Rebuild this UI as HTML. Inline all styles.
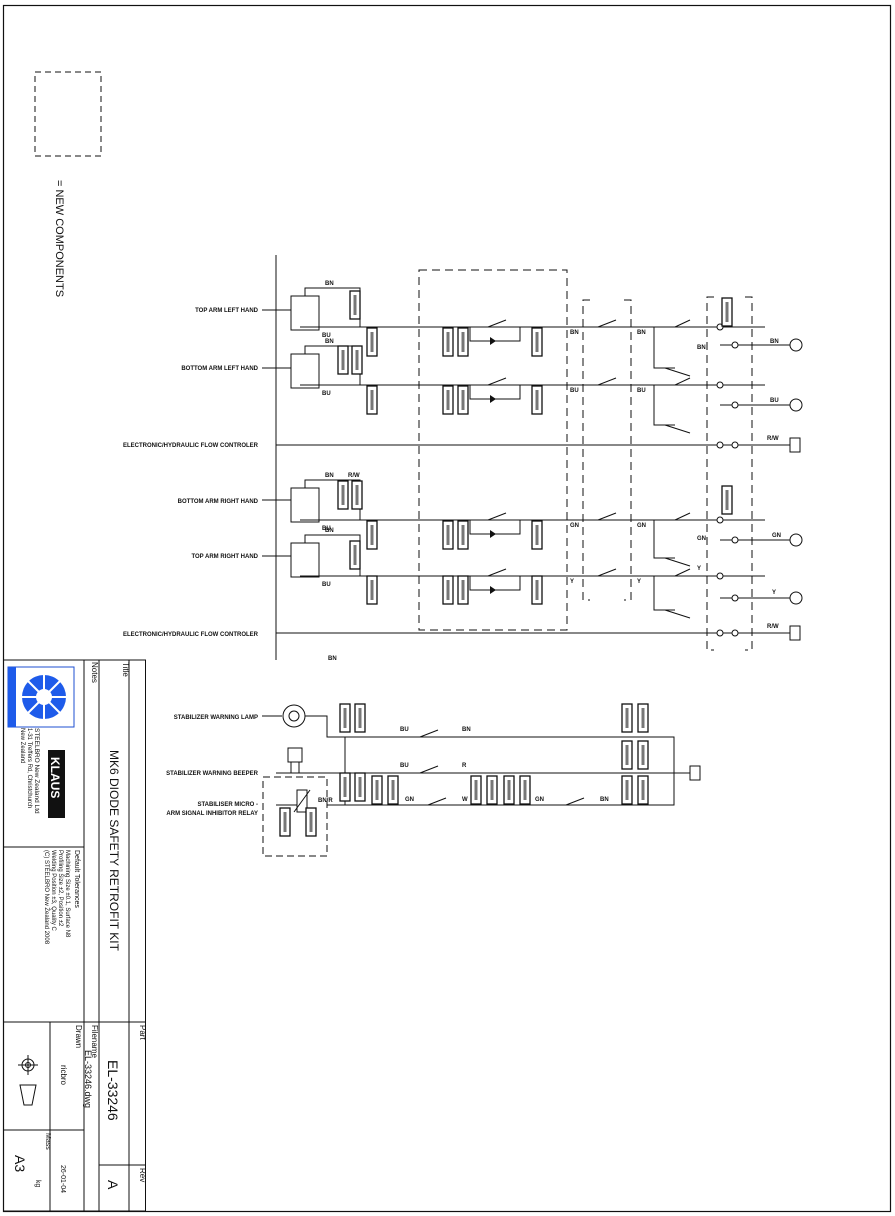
<!DOCTYPE html>
<html><head><meta charset="utf-8"><style>
html,body{margin:0;padding:0;background:#fff;}
svg{display:block;font-family:"Liberation Sans",sans-serif;}
</style></head><body>
<svg width="895" height="1216" viewBox="0 0 895 1216" xmlns="http://www.w3.org/2000/svg">
<defs>
<g id="tag"><rect x="-5" y="-14" width="10" height="28" fill="#fff" stroke="#111" stroke-width="1.3"/><rect x="-1.5" y="-10" width="3" height="20" fill="#777"/></g>
<g id="sw"><line x1="0" y1="0" x2="8" y2="0" stroke="#111"/><line x1="8" y1="0" x2="26" y2="-7" stroke="#111"/><line x1="26" y1="0" x2="34" y2="0" stroke="#111"/></g>
</defs>
<g fill="none" stroke="#111" stroke-width="1">
<rect x="3.5" y="5.5" width="887" height="1206" stroke-width="1.2"/>
<rect x="35" y="72" width="66" height="84" stroke-dasharray="6,4"/>
<rect x="3.5" y="660" width="142" height="551"/>
<line x1="84" y1="660" x2="84" y2="1211"/>
<line x1="99" y1="660" x2="99" y2="1211"/>
<line x1="129" y1="660" x2="129" y2="1211"/>
<line x1="3.5" y1="847" x2="84" y2="847"/>
<line x1="3.5" y1="1022" x2="145" y2="1022"/>
<line x1="50" y1="1022" x2="50" y2="1211"/>
<line x1="3.5" y1="1130" x2="84" y2="1130"/>
<line x1="99" y1="1165" x2="145" y2="1165"/>
<line x1="276" y1="255" x2="276" y2="642"/>
<rect x="419" y="270" width="148" height="360" stroke-dasharray="8,5"/>
<path d="M590 300 H583 V600 H590 M624 300 H631 V600 H624" stroke-dasharray="8,5"/>
<path d="M714 297 H707 V650 H714 M745 297 H752 V650 H745" stroke-dasharray="8,5"/>
<line x1="300" y1="327" x2="765" y2="327"/>
<line x1="300" y1="385" x2="765" y2="385"/>
<line x1="276" y1="445" x2="790" y2="445"/>
<line x1="300" y1="520" x2="765" y2="520"/>
<line x1="300" y1="576" x2="765" y2="576"/>
<line x1="276" y1="633" x2="790" y2="633"/>
<line x1="720" y1="345" x2="790" y2="345"/>
<line x1="720" y1="405" x2="790" y2="405"/>
<line x1="720" y1="540" x2="790" y2="540"/>
<line x1="720" y1="598" x2="790" y2="598"/>
<circle cx="796" cy="345" r="6"/><circle cx="796" cy="405" r="6"/><circle cx="796" cy="540" r="6"/><circle cx="796" cy="598" r="6"/>
<rect x="790" y="438" width="10" height="14"/><rect x="790" y="626" width="10" height="14"/>
<rect x="291" y="296" width="28" height="34"/><path d="M305 296 V288 H360 V327"/>
<rect x="291" y="354" width="28" height="34"/><path d="M305 354 V346 H360 V385"/>
<rect x="291" y="488" width="28" height="34"/><path d="M305 488 V480 H360 V520"/>
<rect x="291" y="543" width="28" height="34"/><path d="M305 543 V535 H360 V576"/>
<line x1="262" y1="310" x2="291" y2="310"/><line x1="262" y1="368" x2="291" y2="368"/>
<line x1="262" y1="500" x2="291" y2="500"/><line x1="262" y1="556" x2="291" y2="556"/>
<path d="M470 327 V341 H520 V327"/><path d="M470 385 V399 H520 V385"/>
<path d="M470 520 V534 H520 V520"/><path d="M470 576 V590 H520 V576"/>
<path d="M654 327 V368 H675"/><path d="M654 385 V425 H675"/>
<path d="M654 520 V558 H675"/><path d="M654 576 V610 H675"/>
<line x1="675" y1="327" x2="690" y2="320"/><line x1="675" y1="385" x2="690" y2="378"/>
<line x1="665" y1="368" x2="690" y2="376"/><line x1="665" y1="425" x2="690" y2="433"/>
<line x1="675" y1="520" x2="690" y2="513"/><line x1="675" y1="576" x2="690" y2="569"/>
<line x1="665" y1="558" x2="690" y2="566"/><line x1="665" y1="610" x2="690" y2="618"/>
<g fill="#fff"><circle cx="720" cy="327" r="3"/><circle cx="735" cy="345" r="3"/><circle cx="720" cy="385" r="3"/><circle cx="735" cy="405" r="3"/><circle cx="720" cy="445" r="3"/><circle cx="735" cy="445" r="3"/><circle cx="720" cy="520" r="3"/><circle cx="735" cy="540" r="3"/><circle cx="720" cy="576" r="3"/><circle cx="735" cy="598" r="3"/><circle cx="720" cy="633" r="3"/><circle cx="735" cy="633" r="3"/></g>
<line x1="276" y1="642" x2="276" y2="660"/>
<line x1="262" y1="716" x2="282" y2="716"/>
<circle cx="294" cy="716" r="11"/><circle cx="294" cy="716" r="5"/>
<path d="M305 716 H327 V737 H674 V805 H327"/>
<line x1="276" y1="773" x2="690" y2="773"/>
<rect x="288" y="748" width="14" height="14"/><path d="M291 762 V773 M299 762 V773"/>
<line x1="345" y1="737" x2="345" y2="805"/>
<rect x="263" y="777" width="64" height="79" stroke-dasharray="7,4"/>
<rect x="297" y="790" width="10" height="22"/><line x1="294" y1="812" x2="310" y2="790"/>
<line x1="276" y1="805" x2="297" y2="805"/>
<rect x="690" y="766" width="10" height="14"/>
</g>
<g transform="translate(412,737)"><use href="#sw"/></g>
<g transform="translate(412,773)"><use href="#sw"/></g>
<g transform="translate(420,805)"><use href="#sw"/></g>
<g transform="translate(558,805)"><use href="#sw"/></g>
<g transform="translate(480,327)"><use href="#sw"/></g>
<g transform="translate(480,385)"><use href="#sw"/></g>
<g transform="translate(480,520)"><use href="#sw"/></g>
<g transform="translate(480,576)"><use href="#sw"/></g>
<g transform="translate(590,327)"><use href="#sw"/></g>
<g transform="translate(590,385)"><use href="#sw"/></g>
<g transform="translate(590,520)"><use href="#sw"/></g>
<g transform="translate(590,576)"><use href="#sw"/></g>
<g fill="#111"><path d="M490 337 l6 4 -6 4z"/><path d="M490 395 l6 4 -6 4z"/><path d="M490 530 l6 4 -6 4z"/><path d="M490 586 l6 4 -6 4z"/></g>
<g>
<use href="#tag" x="355" y="305"/><use href="#tag" x="372" y="342"/>
<use href="#tag" x="343" y="360"/><use href="#tag" x="357" y="360"/><use href="#tag" x="372" y="400"/>
<use href="#tag" x="448" y="342"/><use href="#tag" x="463" y="342"/><use href="#tag" x="537" y="342"/>
<use href="#tag" x="448" y="400"/><use href="#tag" x="463" y="400"/><use href="#tag" x="537" y="400"/>
<use href="#tag" x="343" y="495"/><use href="#tag" x="357" y="495"/><use href="#tag" x="372" y="535"/>
<use href="#tag" x="355" y="555"/><use href="#tag" x="372" y="590"/>
<use href="#tag" x="448" y="535"/><use href="#tag" x="463" y="535"/><use href="#tag" x="537" y="535"/>
<use href="#tag" x="448" y="590"/><use href="#tag" x="463" y="590"/><use href="#tag" x="537" y="590"/>
<use href="#tag" x="345" y="718"/><use href="#tag" x="360" y="718"/>
<use href="#tag" x="345" y="787"/><use href="#tag" x="360" y="787"/><use href="#tag" x="377" y="790"/><use href="#tag" x="393" y="790"/>
<use href="#tag" x="476" y="790"/><use href="#tag" x="492" y="790"/><use href="#tag" x="509" y="790"/><use href="#tag" x="525" y="790"/>
<use href="#tag" x="627" y="718"/><use href="#tag" x="643" y="718"/><use href="#tag" x="627" y="755"/><use href="#tag" x="643" y="755"/><use href="#tag" x="627" y="790"/><use href="#tag" x="643" y="790"/>
<use href="#tag" x="285" y="822"/><use href="#tag" x="311" y="822"/>
<use href="#tag" x="727" y="312"/><use href="#tag" x="727" y="500"/>
</g>
<g font-size="6" fill="#111" text-anchor="end" font-weight="bold">
<text x="258" y="312">TOP ARM LEFT HAND</text>
<text x="258" y="370">BOTTOM ARM LEFT HAND</text>
<text x="258" y="447">ELECTRONIC/HYDRAULIC FLOW CONTROLER</text>
<text x="258" y="503">BOTTOM ARM RIGHT HAND</text>
<text x="258" y="558">TOP ARM RIGHT HAND</text>
<text x="258" y="636">ELECTRONIC/HYDRAULIC FLOW CONTROLER</text>
<text x="258" y="719">STABILIZER WARNING LAMP</text>
<text x="258" y="775">STABILIZER WARNING BEEPER</text>
<text x="258" y="806">STABILISER MICRO -</text>
<text x="258" y="815">ARM SIGNAL INHIBITOR RELAY</text>
</g>
<g font-size="6" fill="#111" font-weight="bold">
<text x="325" y="285">BN</text><text x="322" y="337">BU</text>
<text x="325" y="343">BN</text><text x="322" y="395">BU</text>
<text x="325" y="477">BN</text><text x="348" y="477">R/W</text><text x="322" y="530">BU</text>
<text x="325" y="532">BN</text><text x="322" y="586">BU</text>
<text x="570" y="334">BN</text><text x="570" y="392">BU</text><text x="570" y="527">GN</text><text x="570" y="583">Y</text>
<text x="637" y="334">BN</text><text x="637" y="392">BU</text><text x="637" y="527">GN</text><text x="637" y="583">Y</text>
<text x="697" y="349">BN</text><text x="697" y="540">GN</text><text x="697" y="570">Y</text>
<text x="770" y="343">BN</text><text x="770" y="402">BU</text><text x="767" y="440">R/W</text><text x="772" y="537">GN</text><text x="772" y="594">Y</text><text x="767" y="628">R/W</text>
<text x="328" y="660">BN</text>
<text x="400" y="731">BU</text><text x="462" y="731">BN</text>
<text x="400" y="767">BU</text><text x="462" y="767">R</text>
<text x="405" y="801">GN</text><text x="462" y="801">W</text><text x="535" y="801">GN</text><text x="600" y="801">BN</text>
<text x="318" y="802">BN/R</text>
</g>
<g font-family="Liberation Sans, sans-serif" fill="#111">
<text transform="translate(56,180) rotate(90)" font-size="11">= NEW COMPONENTS</text>
<text transform="translate(123,662) rotate(90)" font-size="8">Title</text>
<text transform="translate(92,662) rotate(90)" font-size="8">Notes</text>
<text transform="translate(110,750) rotate(90)" font-size="12">MK6 DIODE SAFETY RETROFIT KIT</text>
<text transform="translate(75,850) rotate(90)" font-size="7">Default Tolerances</text>
<text transform="translate(66,850) rotate(90)" font-size="6">Machining      Size ±0.1, Surface N8</text>
<text transform="translate(59,850) rotate(90)" font-size="6">Profiling        Size ±2, Position ±2</text>
<text transform="translate(52,850) rotate(90)" font-size="6">Welding         Position ±3, Quality C</text>
<text transform="translate(45,850) rotate(90)" font-size="6">(C) STEELBRO New Zealand 2008</text>
<text transform="translate(35,728) rotate(90)" font-size="6.5">STEELBRO New Zealand Ltd</text>
<text transform="translate(28,728) rotate(90)" font-size="6">1-31 Treffers Rd, Christchurch</text>
<text transform="translate(21,728) rotate(90)" font-size="6">New Zealand</text>
<text transform="translate(140,1025) rotate(90)" font-size="8">Part</text>
<text transform="translate(108,1060) rotate(90)" font-size="14">EL-33246</text>
<text transform="translate(92,1025) rotate(90)" font-size="8">Filename</text>
<text transform="translate(85,1050) rotate(90)" font-size="9">EL-33246.dwg</text>
<text transform="translate(76,1025) rotate(90)" font-size="8">Drawn</text>
<text transform="translate(61,1065) rotate(90)" font-size="8">ricbro</text>
<text transform="translate(61,1165) rotate(90)" font-size="7">26-01-04</text>
<text transform="translate(140,1168) rotate(90)" font-size="8">Rev</text>
<text transform="translate(108,1180) rotate(90)" font-size="14">A</text>
<text transform="translate(46,1133) rotate(90)" font-size="7">Mass</text>
<text transform="translate(36,1180) rotate(90)" font-size="7">kg</text>
<text transform="translate(15,1155) rotate(90)" font-size="14">A3</text>
</g>
<rect x="48" y="750" width="17" height="68" fill="#111"/>
<text transform="translate(51,757) rotate(90)" font-size="12" font-weight="bold" fill="#fff" font-family="Liberation Sans,sans-serif">KLAUS</text>
<rect x="8" y="667" width="66" height="60" fill="#fff" stroke="#1e4fd0"/>
<circle cx="44" cy="697" r="22" fill="#1e5bea"/>
<circle cx="44" cy="697" r="8" fill="#fff"/>
<g stroke="#fff" stroke-width="2"><line x1="22" y1="697" x2="66" y2="697"/><line x1="44" y1="675" x2="44" y2="719"/><line x1="28" y1="681" x2="60" y2="713"/><line x1="28" y1="713" x2="60" y2="681"/></g>
<rect x="8" y="667" width="8" height="60" fill="#1e5bea"/>
<g fill="none" stroke="#111"><circle cx="28" cy="1065" r="6"/><circle cx="28" cy="1065" r="2.5"/><line x1="18" y1="1065" x2="38" y2="1065"/><line x1="28" y1="1055" x2="28" y2="1075"/><path d="M20 1085 L36 1085 L32 1105 L24 1105 Z"/></g>
</svg>
</body></html>
